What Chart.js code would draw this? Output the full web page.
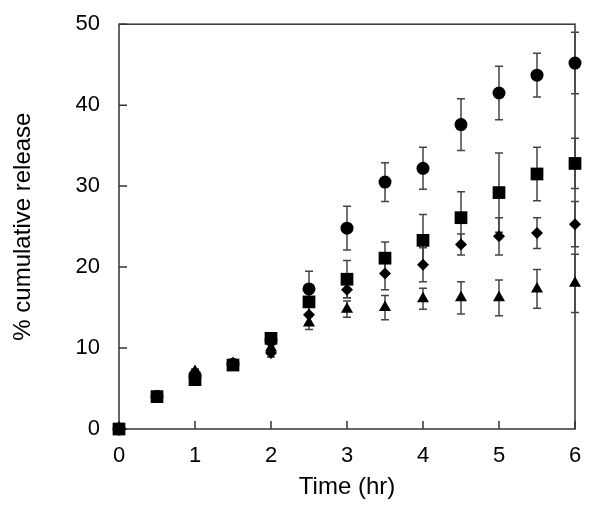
<!DOCTYPE html>
<html>
<head>
<meta charset="utf-8">
<script src="https://cdn.jsdelivr.net/npm/chart.js@4.4.1/dist/chart.umd.min.js"></script>
<style>
  body { margin: 0; background: #fff; }
  canvas { display: block; }
</style>
</head>
<body>
<canvas id="chart1" width="600" height="509"></canvas>
<script>
// data
const time = [0, 0.5, 1, 1.5, 2, 2.5, 3, 3.5, 4, 4.5, 5, 5.5, 6];
const circleVals   = [0, 4.0, 6.5, 8.0, 11.0, 17.3, 24.8, 30.5, 32.2, 37.6, 41.5, 43.7, 45.2];
const circleErr    = [0, 0.3, 0.3, 0.4, 0.6, 2.2, 2.7, 2.4, 2.6, 3.2, 3.3, 2.7, 3.8];
const squareVals   = [0, 4.0, 6.1, 7.9, 11.2, 15.7, 18.5, 21.1, 23.3, 26.1, 29.2, 31.5, 32.8];
const squareErr    = [0, 0.3, 0.4, 0.4, 0.7, 1.5, 2.3, 2.0, 3.2, 3.2, 4.9, 3.3, 3.1];
const diamondVals  = [0, 4.0, 7.0, 8.0, 9.4, 14.1, 17.2, 19.2, 20.3, 22.8, 23.8, 24.2, 25.3];
const diamondErr   = [0, 0.3, 0.3, 0.3, 0.5, 1.2, 1.0, 2.0, 2.1, 1.3, 2.3, 1.9, 2.8];
const triangleVals = [0, 4.0, 7.1, 8.1, 10.0, 13.1, 14.8, 15.0, 16.1, 16.2, 16.2, 17.3, 18.0];
const triangleErr  = [0, 0.3, 0.3, 0.3, 0.5, 0.8, 1.0, 1.5, 1.3, 2.0, 2.2, 2.4, 3.6];

const xTicks = [0, 1, 2, 3, 4, 5, 6];
const yTicks = [0, 10, 20, 30, 40, 50];

const series = [
  { vals: triangleVals, err: triangleErr, style: 'triangle', r: 7 },
  { vals: diamondVals, err: diamondErr, style: 'rectRot', r: 6 },
  { vals: squareVals, err: squareErr, style: 'rect', r: 9 },
  { vals: circleVals, err: circleErr, style: 'circle', r: 6.5 }
];

const axisColor = '#333';
const fontFam = 'Liberation Sans, Arial, sans-serif';

// error bars, drawn under the markers
const errorBars = {
  id: 'errorBars',
  beforeDatasetsDraw(chart) {
    const { ctx, scales: { x, y } } = chart;
    ctx.save();
    ctx.strokeStyle = '#444';
    ctx.lineWidth = 1.5;
    series.forEach(s => {
      time.forEach((t, i) => {
        if (!s.err[i]) return;
        const px = x.getPixelForValue(t);
        const top = y.getPixelForValue(s.vals[i] + s.err[i]);
        const bot = y.getPixelForValue(s.vals[i] - s.err[i]);
        ctx.beginPath();
        ctx.moveTo(px, top); ctx.lineTo(px, bot);
        ctx.moveTo(px - 4, top); ctx.lineTo(px + 4, top);
        ctx.moveTo(px - 4, bot); ctx.lineTo(px + 4, bot);
        ctx.stroke();
      });
    });
    ctx.restore();
  }
};

// box frame and inward ticks
const frame = {
  id: 'frame',
  beforeDatasetsDraw(chart) {
    const { ctx, chartArea: a, scales: { x, y } } = chart;
    ctx.save();
    ctx.strokeStyle = axisColor;
    ctx.lineWidth = 1.5;
    ctx.strokeRect(a.left, a.top, a.right - a.left, a.bottom - a.top);
    ctx.beginPath();
    xTicks.forEach(v => {
      const px = x.getPixelForValue(v);
      ctx.moveTo(px, a.bottom); ctx.lineTo(px, a.bottom - 8);
    });
    yTicks.forEach(v => {
      const py = y.getPixelForValue(v);
      ctx.moveTo(a.left, py); ctx.lineTo(a.left + 8, py);
    });
    ctx.stroke();
    ctx.restore();
  }
};

const ctx1 = document.getElementById('chart1').getContext('2d');
const chart1 = new Chart(ctx1, {
  type: 'scatter',
  data: {
    datasets: series.map(s => ({
      data: time.map((t, i) => ({ x: t, y: s.vals[i] })),
      pointStyle: s.style,
      pointRadius: s.r,
      backgroundColor: '#000',
      borderColor: '#000',
      borderWidth: 0,
      clip: false
    }))
  },
  options: {
    responsive: false,
    animation: false,
    layout: { padding: { top: 21, right: 25, left: 0, bottom: 0 } },
    plugins: { legend: { display: false }, tooltip: { enabled: false } },
    scales: {
      x: {
        type: 'linear', min: 0, max: 6,
        afterBuildTicks: s => { s.ticks = xTicks.map(v => ({ value: v })); },
        afterFit: s => { s.height = 80; },
        grid: { display: false },
        border: { display: false },
        ticks: { color: '#000', padding: 6, font: { family: fontFam, size: 22 } },
        title: {
          display: true, text: 'Time (hr)', color: '#000',
          padding: { top: 0, bottom: 7 },
          font: { family: fontFam, size: 24 }
        }
      },
      y: {
        min: 0, max: 50,
        afterBuildTicks: s => { s.ticks = yTicks.map(v => ({ value: v })); },
        afterFit: s => { s.width = 119; },
        grid: { display: false },
        border: { display: false },
        ticks: { color: '#000', padding: 11, font: { family: fontFam, size: 22 } },
        title: {
          display: true, text: '% cumulative release', color: '#000',
          padding: { top: 9, bottom: 0 },
          font: { family: fontFam, size: 24 }
        }
      }
    }
  },
  plugins: [frame, errorBars]
});
</script>
</body>
</html>
